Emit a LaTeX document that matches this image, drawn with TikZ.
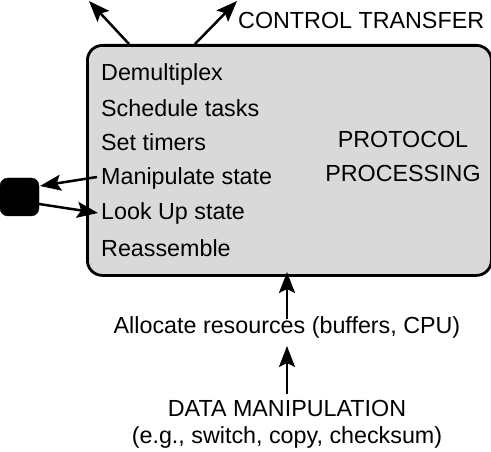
\documentclass[tikz,border=0pt]{standalone}
\usepackage{fontspec}
\setmainfont{Liberation Sans}
\usetikzlibrary{arrows.meta}
\begin{document}
\begin{tikzpicture}[x=1pt,y=-1pt,
  lbl/.style={font=\fontsize{23.3}{27}\selectfont, inner sep=0pt},
  item/.style={lbl, anchor=west},
  arr/.style={line width=2.5pt, -{Stealth[length=21pt,width=16pt,inset=4pt]}},
  box/.style={draw, line width=2.8pt, fill=black!15, rounded corners=15pt}
]
\useasboundingbox (0,0) rectangle (491,452);
\node[box, minimum width=404pt, minimum height=230pt, anchor=north west] (pp) at (86,44) {};
\node[item] (d1) at (101,74) {Demultiplex};
\node[item] (d2) at (101,108) {Schedule tasks};
\node[item] (d3) at (101,142) {Set timers};
\node[item] (d4) at (101,178) {Manipulate state};
\node[item] (d5) at (101,213) {Look Up state};
\node[item] (d6) at (101,248) {Reassemble};
\node[lbl, align=center, font=\fontsize{23.3}{34}\selectfont] (proc) at (403,156) {PROTOCOL\\PROCESSING};
\node[lbl, anchor=west] (ct) at (238,20) {CONTROL TRANSFER};
\node[draw, fill=black, rounded corners=8pt, minimum width=39pt, minimum height=38pt, inner sep=0pt] (st) at (19.5,197) {};
\coordinate (c1s) at (129,44);
\coordinate (c1e) at (89,1);
\coordinate (c2s) at (195,44);
\coordinate (c2e) at (237,1);
\draw[arr] (c1s) -- (c1e);
\draw[arr] (c2s) -- (c2e);
\coordinate (m4) at (97,177);
\coordinate (m4e) at (40,186);
\draw[arr] (m4) -- (m4e);
\coordinate (l1) at (39,204);
\coordinate (l1e) at (98,213);
\draw[arr] (l1) -- (l1e);
\node[lbl] (alloc) at (287,327) {Allocate resources (buffers, CPU)};
\node[lbl, align=center] (dm) at (287,424) {DATA MANIPULATION\\(e.g., switch, copy, checksum)};
\coordinate (a1) at (287,319);
\coordinate (a1e) at (287,272);
\draw[arr] (a1) -- (a1e);
\coordinate (b1) at (287,394);
\coordinate (b1e) at (287,346);
\draw[arr] (b1) -- (b1e);
\end{tikzpicture}
\end{document}
